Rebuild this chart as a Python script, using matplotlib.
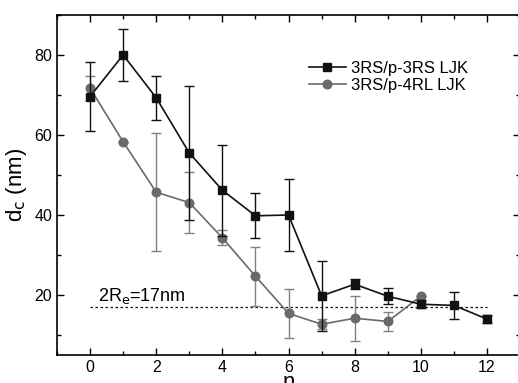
import numpy as np
import matplotlib
matplotlib.use("Agg")
import matplotlib.pyplot as plt
from matplotlib.ticker import MultipleLocator
from matplotlib.lines import Line2D

plt.rcParams['font.family'] = ['Liberation Sans', 'DejaVu Sans']

# 3RS/p-3RS LJK
n_a = [0, 1, 2, 3, 4, 5, 6, 7, 8, 9, 10, 11, 12]
d_a = [69.6, 80.0, 69.3, 55.5, 46.2, 39.8, 40.0, 19.8, 22.7, 19.7, 17.7, 17.4, 14.0]
e_a = [8.7, 6.5, 5.5, 16.7, 11.4, 5.6, 8.9, 8.8, 1.3, 2.0, 1.0, 3.4, 1.0]

# 3RS/p-4RL LJK
n_b = [0, 1, 2, 3, 4, 5, 6, 7, 8, 9, 10]
d_b = [71.7, 58.3, 45.7, 43.1, 34.3, 24.7, 15.4, 12.7, 14.2, 13.4, 19.7]
e_b = [3.0, 0.0, 14.8, 7.7, 1.9, 7.4, 6.2, 1.3, 5.6, 2.4, 0.0]

re_val = 17

black = '#111111'
gray = '#6a6a6a'

fig = plt.figure(figsize=(5.18, 3.83), dpi=100)
ax = fig.add_axes([0.110, 0.073, 0.894, 0.888])

ax.errorbar(n_a, d_a, yerr=e_a, color=black, marker='s', ms=5.6, lw=1.2,
            elinewidth=1.0, capsize=3.5, capthick=1.0, zorder=3)
ax.errorbar(n_b, d_b, yerr=e_b, color=gray, marker='o', ms=6.2, lw=1.2,
            ecolor='#808080', elinewidth=1.0, capsize=3.5, capthick=1.0, zorder=2)

ax.plot([0, 12], [re_val, re_val], color=black, ls=(0, (2, 2)), lw=0.9, zorder=1)
ax.text(0.25, 18.6, r'2R$_\mathrm{e}$=17nm', fontsize=13)

ax.set_xlim(-1, 13)
ax.set_ylim(5, 90)
ax.xaxis.set_major_locator(MultipleLocator(2))
ax.xaxis.set_minor_locator(MultipleLocator(1))
ax.yaxis.set_major_locator(MultipleLocator(20))
ax.yaxis.set_minor_locator(MultipleLocator(10))
ax.tick_params(which='both', direction='in', top=True, right=True, labelsize=11.5, width=1)
ax.tick_params(which='major', length=5)
ax.tick_params(which='minor', length=3)
for s in ax.spines.values():
    s.set_linewidth(1.2)

ax.set_xlabel('n', fontsize=16, labelpad=-2)
ax.set_ylabel(r'd$_\mathrm{c}$ (nm)', fontsize=16, labelpad=4)

handles = [Line2D([], [], color=black, marker='s', ms=5.6, lw=1.2),
           Line2D([], [], color=gray, marker='o', ms=6.2, lw=1.2)]
ax.legend(handles, ['3RS/p-3RS LJK', '3RS/p-4RL LJK'], loc='upper left',
          bbox_to_anchor=(0.512, 0.91), frameon=False, fontsize=12,
          handlelength=2.2, handletextpad=0.3, labelspacing=0.15)

fig.savefig('out.png', dpi=100)
